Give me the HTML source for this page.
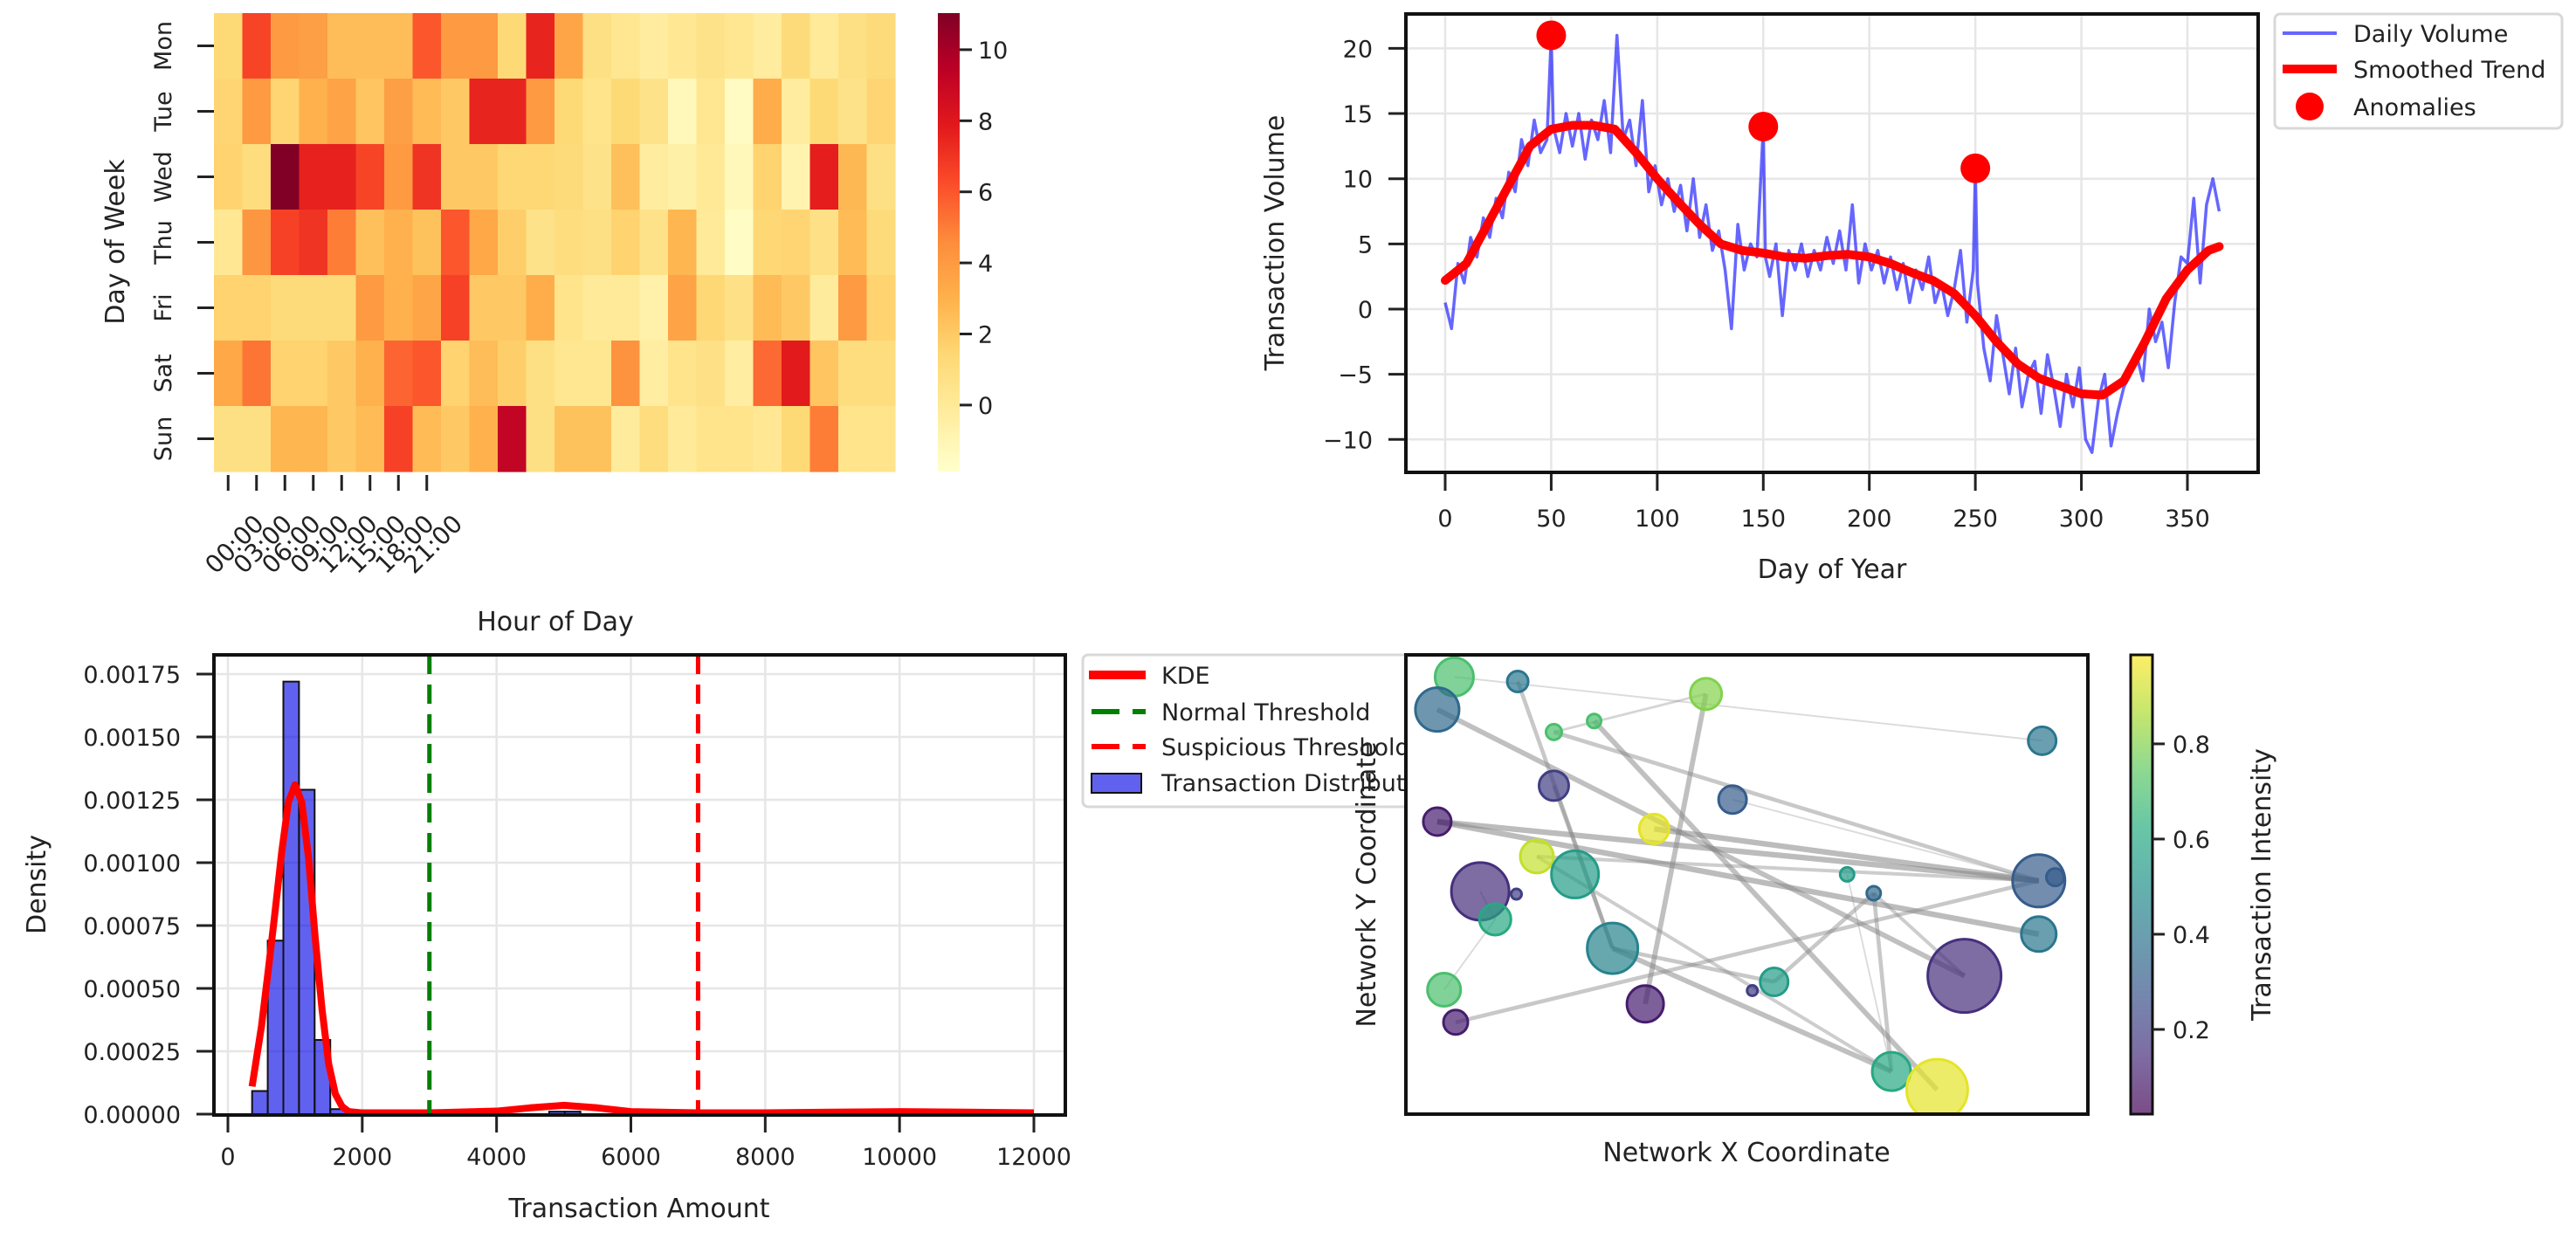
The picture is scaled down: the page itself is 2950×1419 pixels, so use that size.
<!DOCTYPE html>
<html><head><meta charset="utf-8"><style>
html,body{margin:0;padding:0;background:#fff;}
svg{display:block;font-family:"DejaVu Sans","Liberation Sans",sans-serif;}
</style></head><body>
<svg id="fig" xmlns="http://www.w3.org/2000/svg" width="2950" height="1419" viewBox="0 0 2950 1419">
<rect width="2950" height="1419" fill="#fff"/>
</svg>
<script>
// ---------- DATA ----------
const days=["Mon","Tue","Wed","Thu","Fri","Sat","Sun"];
const hourLabels=["00:00","03:00","06:00","09:00","12:00","15:00","18:00","21:00"];
const heatMon=[1.3,6.5,4,3.8,2.5,2.5,2.5,6,4,4,1.3,7.5,3.5,0.8,0.3,-0.2,0.2,0.6,0.3,-0.2,1.2,0,0.8,1.2];
const heatTue=[1.5,4,1.5,3,3.6,2.2,3.8,2.6,2,7.5,7.5,4,1.3,0.5,1.3,0.6,-1.2,0.3,-1.5,3.2,-0.2,1.3,0.6,1.5];
const heatWed=[1.6,1.0,11,7.6,7.6,6.5,4,7,2,2,1.4,1.4,1.2,0.6,2.4,-0.2,-0.5,0.1,-1.2,1.6,-0.8,7.7,2.7,0.8];
const heatThu=[0.2,4.2,6.6,7,5,2.4,3,2.3,6,3.4,1.8,0.6,1.0,0.8,1.6,0.6,2.8,0,-1.6,1.4,1.5,0.7,2.6,1.2];
const heatFri=[1.6,1.6,1.2,1.2,1.2,4,3,3.5,6.6,2,2,3.2,0.5,0,0,-0.6,3.6,1.4,0.7,2.6,2.0,-0.1,4.0,1.6];
const heatSat=[3.4,5.2,1.6,1.6,2,3,5.6,6,1.6,2.5,1.8,0.8,0.3,0.3,4.3,-0.3,0.5,0.7,-0.3,5.5,7.8,2.2,1.0,1.0];
const heatSun=[0.8,0.8,2.8,2.8,2,2.6,6.6,2.6,2,3,9.2,0.8,2.3,2.3,-0.1,1.0,0,0.5,0.5,0.2,1.3,5.0,0.5,0.5];
const heatTicks=[0,2,4,6,8,10];

const dailyDays=[0,3,6,9,12,15,18,21,24,27,30,33,36,39,42,45,48,50,51,54,57,60,63,66,69,72,75,78,81,84,87,90,93,96,99,102,105,108,111,114,117,120,123,126,129,132,135,138,141,144,147,150,151,153,156,159,162,165,168,171,174,177,180,183,186,189,192,195,198,201,204,207,210,213,216,219,222,225,228,231,234,237,240,243,246,249,250,251,254,257,260,263,266,269,272,275,278,281,284,287,290,293,296,299,302,305,308,311,314,317,320,323,326,329,332,335,338,341,344,347,350,353,356,359,362,365];
const dailyVals=[0.5,-1.5,3.5,2,5.5,4,7,5.5,8.5,7,10.5,9,13,11,14.5,12,13,21,14,12,15,12.5,15,11.5,14.5,13,16,12,21,13,14.5,11,16,9,11,8,10,7.5,9.5,6,10,5.5,8,4.5,6,3,-1.5,6.5,3,5,4,14,4,2.5,5,-0.5,4.5,3,5,2.5,4.5,3,5.5,3.5,6,3,8,2,5,3,4.5,2,4,1.5,3.5,0.5,3,1.5,4,0.5,2,-0.5,1.5,4.5,-1,3,10.8,2,-3,-5.5,-0.5,-3.5,-6.5,-3,-7.5,-5,-4,-8,-3.5,-6,-9,-5,-7.5,-4.5,-10,-11,-7,-5,-10.5,-8,-6,-5,-3.5,-5.5,0,-2.5,-1,-4.5,0.5,4,3.5,8.5,2,8,10,7.5];
const trendDays=[0,10,20,30,40,50,60,70,80,90,100,110,120,130,140,150,160,170,180,190,200,210,220,230,240,250,260,270,280,290,300,310,320,330,340,350,360,365];
const trendVals=[2.2,3.5,6.5,9.5,12.5,13.8,14.1,14.1,13.8,12,10,8.2,6.5,5,4.5,4.3,4.0,3.9,4.1,4.2,4.0,3.5,2.8,2.2,1.2,-0.5,-2.5,-4.2,-5.3,-5.9,-6.5,-6.6,-5.5,-2.5,0.8,3.0,4.5,4.8];
const anomalyDays=[50,150,250];
const anomalyVals=[21,14,10.8];
const lineXTicks=[0,50,100,150,200,250,300,350];
const lineYTicks=[-10,-5,0,5,10,15,20];

const histStart=360, histBinWidth=232.8;
const histVals=[0.000092,0.00069,0.00172,0.00129,0.000295,0.00002,0,0,0,0,0,0,0,0,0,0,0,0,0,0.00001,0.00001,0,0,0,0,0,0,0,0,0,0,0,0,0,0,0,0,0,0,0,0,0.000005,0,0,0,0,0,0,0,0];
const kdeX=[360,500,600,700,800,900,1000,1100,1200,1300,1400,1500,1600,1700,1800,2000,3000,4000,4500,5000,5500,6000,7000,8000,9000,10000,11000,12000];
const kdeY=[0.00011,0.00035,0.00057,0.0008,0.00104,0.00124,0.00131,0.00124,0.00102,0.0007,0.00042,0.0002,0.00008,0.00003,0.00001,0.000005,0.000005,0.000012,0.000025,0.000035,0.000025,0.00001,0.000005,0.000005,0.000008,0.00001,0.000008,0.000005];
const thresholds=[3000,7000];
const histXTicks=[0,2000,4000,6000,8000,10000,12000];
const histYTicks=[0,0.00025,0.0005,0.00075,0.001,0.00125,0.0015,0.00175];

const nodeX=[0.071,0.164,0.440,0.046,0.276,0.217,0.933,0.217,0.479,0.046,0.364,0.192,0.248,0.109,0.162,0.131,0.647,0.686,0.928,0.952,0.928,0.303,0.819,0.540,0.508,0.056,0.351,0.073,0.712,0.779];
const nodeY=[0.952,0.942,0.915,0.881,0.856,0.832,0.813,0.715,0.685,0.637,0.621,0.561,0.522,0.485,0.479,0.424,0.522,0.481,0.508,0.516,0.392,0.361,0.301,0.288,0.269,0.271,0.240,0.200,0.093,0.053];
const nodeSize=[22,12,18,25,8,9,16,17,16,16,17,19,27,33,6,18,8,8,30,10,20,29,42,16,6,19,21,14,22,35];
const nodeIntensity=[0.7,0.4,0.8,0.35,0.7,0.7,0.4,0.2,0.3,0.1,0.95,0.9,0.55,0.15,0.2,0.6,0.55,0.35,0.3,0.3,0.4,0.45,0.15,0.55,0.2,0.7,0.1,0.1,0.6,0.95];
const edgeFrom=[3,5,4,1,2,9,9,10,11,27,21,21,23,17,7,0,8,13,15,11,2,17,16];
const edgeTo=[22,18,29,21,26,18,20,18,18,18,23,28,17,28,21,6,18,15,25,28,5,22,28];
const edgeWeight=[0.8,0.6,0.8,0.6,0.8,0.9,0.9,0.9,0.5,0.6,0.6,0.8,0.6,0.6,0.6,0.15,0.15,0.2,0.15,0.5,0.3,0.5,0.15];
const cbarTicks=[0.2,0.4,0.6,0.8];

// ---------- HELPERS ----------
const NS="http://www.w3.org/2000/svg";
const svg=document.getElementById('fig');
function mk(tag,attrs,parent){const e=document.createElementNS(NS,tag);for(const k in attrs)e.setAttribute(k,attrs[k]);(parent||svg).appendChild(e);return e;}
function txt(x,y,s,size,anchor,rot,parent){const t=mk('text',{transform:`translate(${x},${y}) rotate(${rot||0})`,'font-size':size,'text-anchor':anchor||'middle',fill:'#222'},parent);t.textContent=s;return t;}
function lerpColor(stops,t){t=Math.max(0,Math.min(1,t));const n=stops.length-1;const i=Math.min(n-1,Math.floor(t*n));const f=t*n-i;const a=stops[i],b=stops[i+1];
 const p=h=>[parseInt(h.substr(1,2),16),parseInt(h.substr(3,2),16),parseInt(h.substr(5,2),16)];const A=p(a),B=p(b);
 return `rgb(${Math.round(A[0]+(B[0]-A[0])*f)},${Math.round(A[1]+(B[1]-A[1])*f)},${Math.round(A[2]+(B[2]-A[2])*f)})`;}
const YLORRD=["#ffffcc","#ffeda0","#fed976","#feb24c","#fd8d3c","#fc4e2a","#e31a1c","#bd0026","#800026"];
const VIRIDIS=["#440154","#472d7b","#3b528b","#2c728e","#21918c","#28ae80","#5ec962","#addc30","#fde725"];
const TS=27, LS=30;

// ---------- HEATMAP ----------
const hm=mk('g',{});


const hmL=245,hmT=15,hmW=780,hmH=525,hmMin=-1.87,hmMax=11.03;
const rows=[heatMon,heatTue,heatWed,heatThu,heatFri,heatSat,heatSun];
const cw=hmW/24,rh=hmH/7;
rows.forEach((row,r)=>row.forEach((v,c)=>{
 const cell=mk('rect',{x:hmL+c*cw,y:hmT+r*rh,width:cw+0.6,height:rh+0.6,fill:lerpColor(YLORRD,(v-hmMin)/(hmMax-hmMin))},hm);
 
 
}));
days.forEach((d,i)=>{const cy=hmT+rh*(i+0.5);
 mk('line',{x1:226,x2:hmL,y1:cy,y2:cy,stroke:'#222','stroke-width':3},hm);
 const t=txt(196,cy,d,TS,'middle',-90,hm);
 
 
});
hourLabels.forEach((h,i)=>{const cx=hmL+cw*(i+0.5);
 mk('line',{x1:cx,x2:cx,y1:544,y2:562,stroke:'#222','stroke-width':3},hm);
 const t=txt(cx+14,630,h,28,'middle',-45,hm);
 
 
});
let t0=txt(142,277,'Day of Week',LS,'middle',-90,hm);


t0=txt(636,722,'Hour of Day',LS,'middle',0,hm);


const defs=mk('defs',{});
const g1=mk('linearGradient',{id:'ylorrd',x1:0,y1:1,x2:0,y2:0},defs);
YLORRD.forEach((c,i)=>mk('stop',{offset:i/(YLORRD.length-1),'stop-color':c},g1));
const g2=mk('linearGradient',{id:'viridis',x1:0,y1:1,x2:0,y2:0},defs);
VIRIDIS.forEach((c,i)=>mk('stop',{offset:i/(VIRIDIS.length-1),'stop-color':c},g2));
const hcb=mk('rect',{x:1074,y:hmT,width:25,height:hmH,fill:'url(#ylorrd)'});


heatTicks.forEach(v=>{const y=hmT+hmH*(1-(v-hmMin)/(hmMax-hmMin));
 mk('line',{x1:1099,x2:1113,y1:y,y2:y,stroke:'#222','stroke-width':3});
 const t=txt(1120,y+10,String(v),TS,'start',0);
 
 
});

// ---------- LINE CHART ----------
const lc=mk('g',{});


const lL=1610,lR=2586,lT=16,lB=541;
const xL=d=>1655+d*(850/350), yL=v=>354-v*14.93;
lineXTicks.forEach(d=>{mk('line',{x1:xL(d),x2:xL(d),y1:lT,y2:lB,stroke:'#e6e6e6','stroke-width':2.5},lc);
 mk('line',{x1:xL(d),x2:xL(d),y1:lB,y2:lB+21,stroke:'#222','stroke-width':3},lc);
 const t=txt(xL(d),603,String(d),TS,'middle',0,lc);
 
 });
lineYTicks.forEach(v=>{mk('line',{x1:lL,x2:lR,y1:yL(v),y2:yL(v),stroke:'#e6e6e6','stroke-width':2.5},lc);
 mk('line',{x1:lL-20,x2:lL,y1:yL(v),y2:yL(v),stroke:'#222','stroke-width':3},lc);
 const t=txt(1572,yL(v)+10,String(v).replace('-','\u2212'),TS,'end',0,lc);
 
 });
const dl=mk('polyline',{points:dailyDays.map((d,i)=>xL(d)+','+yL(dailyVals[i])).join(' '),fill:'none',stroke:'rgba(0,0,255,0.6)','stroke-width':3.5,'stroke-linejoin':'round'},lc);


const tl=mk('polyline',{points:trendDays.map((d,i)=>xL(d)+','+yL(trendVals[i])).join(' '),fill:'none',stroke:'#ff0000','stroke-width':10,'stroke-linejoin':'round','stroke-linecap':'round'},lc);


anomalyDays.forEach((d,i)=>{const c=mk('circle',{cx:xL(d),cy:yL(anomalyVals[i]),r:17,fill:'#ff0000'},lc);
 
 });
mk('rect',{x:lL,y:lT,width:lR-lL,height:lB-lT,fill:'none',stroke:'#111','stroke-width':4},lc);
t0=txt(1470,278,'Transaction Volume',LS,'middle',-90,lc);


t0=txt(2098,662,'Day of Year',LS,'middle',0,lc);


const lg=mk('g',{},lc);


mk('rect',{x:2605,y:16,width:329,height:131,rx:6,fill:'#fff',stroke:'#d8d8d8','stroke-width':3},lg);
mk('line',{x1:2614,x2:2676,y1:38,y2:38,stroke:'rgba(0,0,255,0.6)','stroke-width':4},lg);
mk('line',{x1:2614,x2:2676,y1:79,y2:79,stroke:'#ff0000','stroke-width':10},lg);
mk('circle',{cx:2645,cy:122,r:16,fill:'#ff0000'},lg);
[['Daily Volume',38],['Smoothed Trend',79],['Anomalies',122]].forEach(([s,y])=>{const t=txt(2695,y+10,s,TS,'start',0,lg);
 
 });

// ---------- HISTOGRAM ----------
const hg=mk('g',{});


const hL=245,hR=1220,hT=750,hB=1277;
const xH=v=>261+v*(923/12000), yH=v=>1276-v*(504/0.00175);
histXTicks.forEach(v=>{mk('line',{x1:xH(v),x2:xH(v),y1:hT,y2:hB,stroke:'#e6e6e6','stroke-width':2.5},hg);
 mk('line',{x1:xH(v),x2:xH(v),y1:hB,y2:hB+20,stroke:'#222','stroke-width':3},hg);
 const t=txt(xH(v),1334,String(v),TS,'middle',0,hg);
 
 });
histYTicks.forEach(v=>{mk('line',{x1:hL-20,x2:hR,y1:yH(v),y2:yH(v),stroke:'#e6e6e6','stroke-width':2.5},hg);
 mk('line',{x1:hL-20,x2:hL,y1:yH(v),y2:yH(v),stroke:'#222','stroke-width':3},hg);
 const t=txt(207,yH(v)+10,v.toFixed(5),TS,'end',0,hg);
 
 });
histVals.forEach((v,i)=>{if(v<=0)return;const x0=xH(histStart+i*histBinWidth),x1=xH(histStart+(i+1)*histBinWidth);
 const b=mk('rect',{x:x0,y:yH(v),width:x1-x0,height:yH(0)-yH(v),fill:'rgba(0,0,230,0.62)',stroke:'#111','stroke-width':2},hg);
 
 });
const kd=mk('polyline',{points:kdeX.map((x,i)=>xH(x)+','+yH(kdeY[i])).join(' '),fill:'none',stroke:'#ff0000','stroke-width':8,'stroke-linejoin':'round'},hg);


const thColors=['#008000','#ff0000'];
thresholds.forEach((v,i)=>{const l=mk('line',{x1:xH(v),x2:xH(v),y1:hT,y2:hB,stroke:thColors[i],'stroke-width':5,'stroke-dasharray':'22,12'},hg);
 
 });
mk('rect',{x:hL,y:hT,width:hR-hL,height:hB-hT,fill:'none',stroke:'#111','stroke-width':4},hg);
t0=txt(52,1013,'Density',LS,'middle',-90,hg);


t0=txt(732,1394,'Transaction Amount',LS,'middle',0,hg);


const hlg=mk('g',{},hg);


mk('rect',{x:1240,y:750,width:420,height:174,rx:6,fill:'#fff',stroke:'#d8d8d8','stroke-width':3},hlg);
mk('line',{x1:1247,x2:1312,y1:773,y2:773,stroke:'#ff0000','stroke-width':10},hlg);
mk('line',{x1:1250,x2:1312,y1:815,y2:815,stroke:'#008000','stroke-width':6,'stroke-dasharray':'32,15'},hlg);
mk('line',{x1:1250,x2:1312,y1:855,y2:855,stroke:'#ff0000','stroke-width':6,'stroke-dasharray':'32,15'},hlg);
mk('rect',{x:1250,y:886,width:57,height:22,fill:'rgba(0,0,230,0.62)',stroke:'#111','stroke-width':2},hlg);
[['KDE',773],['Normal Threshold',815],['Suspicious Threshold',855],['Transaction Distribution',896]].forEach(([s,y])=>{const t=txt(1330,y+10,s,TS,'start',0,hlg);
 
 });

// ---------- NETWORK SCATTER ----------
const ng=mk('g',{});


const nL=1610,nR=2391,nT=750,nB=1276;
const xN=v=>nL+v*(nR-nL), yN=v=>nT+(1-v)*(nB-nT);
const cMin=0.022,cMax=0.987;
mk('rect',{x:nL,y:nT,width:nR-nL,height:nB-nT,fill:'#fff'},ng);
const cp=mk('clipPath',{id:'nclip'},defs);
mk('rect',{x:nL,y:nT,width:nR-nL,height:nB-nT},cp);
const inner=mk('g',{'clip-path':'url(#nclip)'},ng);
edgeFrom.forEach((a,i)=>{const b=edgeTo[i];
 const e=mk('line',{x1:xN(nodeX[a]),y1:yN(nodeY[a]),x2:xN(nodeX[b]),y2:yN(nodeY[b]),stroke:'#888','stroke-opacity':0.25+0.35*edgeWeight[i],'stroke-width':1+6*edgeWeight[i]},inner);
 
 });
nodeX.forEach((x,i)=>{const col=lerpColor(VIRIDIS,(nodeIntensity[i]-cMin)/(cMax-cMin));
 const c=mk('circle',{cx:xN(x),cy:yN(nodeY[i]),r:nodeSize[i],fill:col,'fill-opacity':0.7,stroke:col,'stroke-width':3},inner);
 
 });
mk('rect',{x:nL,y:nT,width:nR-nL,height:nB-nT,fill:'none',stroke:'#111','stroke-width':4},ng);
t0=txt(1575,1013,'Network Y Coordinate',LS,'middle',-90,ng);


t0=txt(2000,1330,'Network X Coordinate',LS,'middle',0,ng);


const ncb=mk('rect',{x:2440,y:nT,width:25,height:nB-nT,fill:'url(#viridis)','fill-opacity':0.7,stroke:'#111','stroke-width':3},ng);


cbarTicks.forEach(v=>{const y=nT+(nB-nT)*(1-(v-cMin)/(cMax-cMin));
 mk('line',{x1:2465,x2:2479,y1:y,y2:y,stroke:'#222','stroke-width':3},ng);
 const t=txt(2488,y+10,v.toFixed(1),TS,'start',0,ng);
 
 });
t0=txt(2600,1013,'Transaction Intensity',LS,'middle',-90,ng);


</script>
</body></html>
